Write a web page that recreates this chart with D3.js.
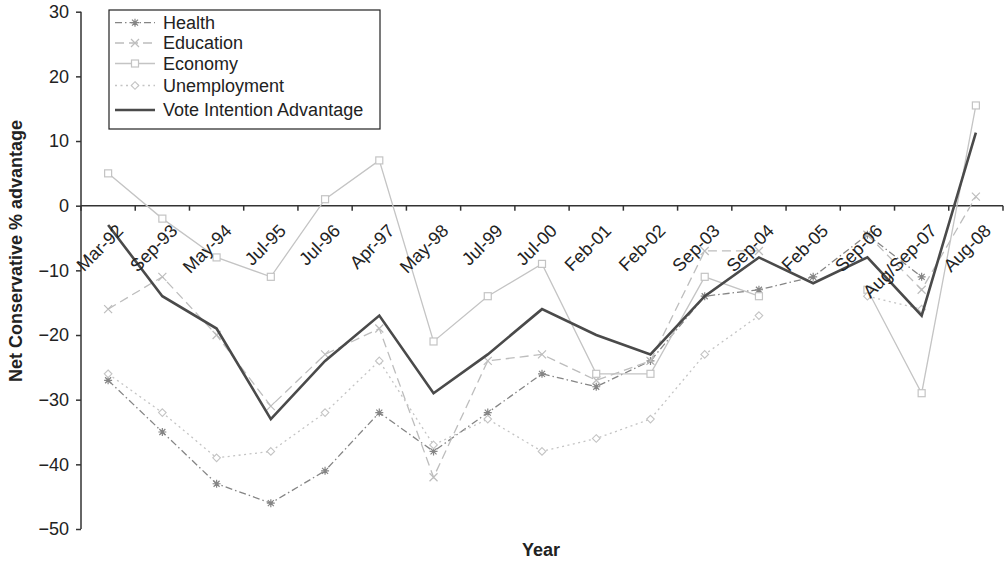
<!DOCTYPE html>
<html><head><meta charset="utf-8">
<script src="https://cdn.jsdelivr.net/npm/d3@7"></script>
<style>
body{margin:0;background:#fff;}
text{font-family:"Liberation Sans",Arial,Helvetica,sans-serif;fill:#222;}
</style></head>
<body><svg id="c" width="1007" height="562"></svg>
<script>
const categories = ["Mar-92","Sep-93","May-94","Jul-95","Jul-96","Apr-97","May-98","Jul-99","Jul-00","Feb-01","Feb-02","Sep-03","Sep-04","Feb-05","Sep-06","Aug/Sep-07","Aug-08"];
const health       = [-27,-35,-43,-46,-41,-32,-38,-32,-26,-28,-24,-14,-13,-11,-4.5,-11,null];
const education    = [-16,-11,-20,-31,-23,-19,-42,-24,-23,-27,-24,-7,-7,null,-4.5,-13,1.4];
const economy      = [5,-2,-8,-11,1,7,-21,-14,-9,-26,-26,-11,-14,null,-13,-29,15.5];
const unemployment = [-26,-32,-39,-38,-32,-24,-37,-33,-38,-36,-33,-23,-17,null,-14,-16,null];
const vote         = [-3,-14,-19,-33,-24,-17,-29,-23,-16,-20,-23,-14,-8,-12,-8,-17,11.3];
const yTicks = [-50,-40,-30,-20,-10,0,10,20,30];
const seriesNames = ["Health","Education","Economy","Unemployment","Vote Intention Advantage"];

const svg = d3.select("#c");
const x = d3.scaleBand().domain(categories).range([81,1003]).padding(0);
const y = d3.scaleLinear().domain([-50,30]).range([529,11.7]);
const cx = c => x(c) + x.bandwidth()/2;

const styles = [
  {data:health, color:"#858585", width:1.3, dash:"7,3,1.5,3", marker:"star"},
  {data:education, color:"#bdbdbd", width:1.3, dash:"9,5", marker:"x"},
  {data:economy, color:"#c4c4c4", width:1.3, dash:null, marker:"square"},
  {data:unemployment, color:"#c4c4c4", width:1.3, dash:"2,3.5", marker:"diamond"},
  {data:vote, color:"#4a4a4a", width:2.6, dash:null, marker:null}
];

// Y axis
const yAxis = svg.append("g").attr("transform","translate(81,0)")
  .call(d3.axisLeft(y).tickValues(yTicks).tickSize(5).tickPadding(7).tickFormat(d => d < 0 ? "\u2212" + Math.abs(d) : d));
yAxis.select(".domain").attr("stroke","#333").attr("stroke-width",1.5).attr("d","M0,11.7V529");
yAxis.selectAll(".tick line").attr("stroke","#333").attr("stroke-width",1.5);
yAxis.selectAll(".tick text").attr("font-size",18).attr("font-family","Liberation Sans, Arial, sans-serif").attr("fill","#222");

// X axis at zero
const xAxis = svg.append("g").attr("transform",`translate(0,${y(0)})`)
  .call(d3.axisBottom(x).tickSize(0).tickFormat(""));
xAxis.select(".domain").attr("stroke","#333").attr("stroke-width",1.5).attr("d","M81,0H1003");
xAxis.selectAll(".tick").remove();
const bounds = categories.map(c => x(c)).concat([x(categories[categories.length-1]) + x.bandwidth()]);
xAxis.selectAll("line.tk").data(bounds).enter().append("line")
  .attr("x1",d=>d).attr("x2",d=>d).attr("y1",0).attr("y2",5)
  .attr("stroke","#333").attr("stroke-width",1.5);

// Lines
const line = d3.line().defined(d => d.v !== null).x(d => cx(d.c)).y(d => y(d.v));

function drawMarker(g, type, px, py, color){
  const s = 4;
  if(type==="star"){
    g.append("path").attr("d",`M${px-s},${py}H${px+s}M${px},${py-s}V${py+s}M${px-s*0.75},${py-s*0.75}L${px+s*0.75},${py+s*0.75}M${px-s*0.75},${py+s*0.75}L${px+s*0.75},${py-s*0.75}`)
      .attr("stroke",color).attr("stroke-width",1.2).attr("fill","none");
  } else if(type==="x"){
    g.append("path").attr("d",`M${px-s},${py-s}L${px+s},${py+s}M${px-s},${py+s}L${px+s},${py-s}`)
      .attr("stroke",color).attr("stroke-width",1.2).attr("fill","none");
  } else if(type==="square"){
    g.append("rect").attr("x",px-3.5).attr("y",py-3.5).attr("width",7).attr("height",7)
      .attr("stroke",color).attr("stroke-width",1.2).attr("fill","#fff");
  } else if(type==="diamond"){
    g.append("path").attr("d",`M${px},${py-3.8}L${px+3.8},${py}L${px},${py+3.8}L${px-3.8},${py}Z`)
      .attr("stroke",color).attr("stroke-width",1.1).attr("fill","#fff");
  }
}

styles.forEach(st => {
  const pts = categories.map((c,i) => ({c, v: st.data[i]}));
  const g = svg.append("g");
  g.append("path").datum(pts).attr("d", line).attr("fill","none")
    .attr("stroke", st.color).attr("stroke-width", st.width)
    .attr("stroke-dasharray", st.dash).attr("stroke-linejoin","miter");
  if(st.marker){
    pts.filter(p => p.v !== null).forEach(p => drawMarker(g, st.marker, cx(p.c), y(p.v), st.color));
  }
});

// X tick labels
svg.append("g").selectAll("text").data(categories).enter().append("text")
  .attr("transform", d => `translate(${cx(d)+7},${y(0)+17}) rotate(-45)`)
  .attr("text-anchor","end").attr("dy","0.72em")
  .attr("font-size",18).text(d => d);

// Legend
const lg = svg.append("g");
lg.append("rect").attr("x",109).attr("y",10).attr("width",271).attr("height",119)
  .attr("fill","#fff").attr("stroke","#222").attr("stroke-width",1.2);
const legY = [22.7, 43, 63.5, 85.5, 110];
styles.forEach((st,i) => {
  const ly = legY[i];
  lg.append("line").attr("x1",115).attr("x2",155).attr("y1",ly).attr("y2",ly)
    .attr("stroke",st.color).attr("stroke-width",st.width).attr("stroke-dasharray",st.dash);
  if(st.marker) drawMarker(lg, st.marker, 135, ly, st.color);
  lg.append("text").attr("x",163).attr("y",ly).attr("dy","0.35em").attr("font-size",18).text(seriesNames[i]);
});

// Axis titles
svg.append("text").attr("x",541).attr("y",556).attr("text-anchor","middle")
  .attr("font-size",18).attr("font-weight","bold").text("Year");
svg.append("text").attr("transform","translate(22,251) rotate(-90)").attr("text-anchor","middle")
  .attr("font-size",18).attr("font-weight","bold").text("Net Conservative % advantage");
</script></body></html>
